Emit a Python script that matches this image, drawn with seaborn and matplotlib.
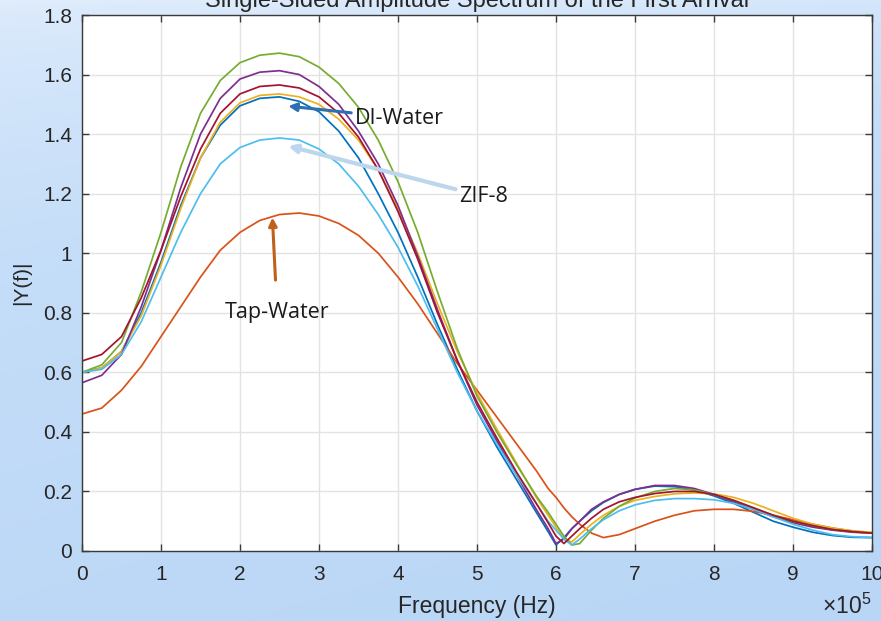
import numpy as np
import pandas as pd
import matplotlib
matplotlib.use("Agg")
import matplotlib.pyplot as plt
from matplotlib.colors import LinearSegmentedColormap
import seaborn as sns

# Frequency axis in units of 1e5 Hz
freq = [0, 0.25, 0.5, 0.75, 1.0, 1.25, 1.5, 1.75, 2.0, 2.25, 2.5, 2.75, 3.0,
        3.25, 3.5, 3.75, 4.0, 4.25, 4.5, 4.75, 5.0, 5.25, 5.5, 5.75,
        5.9, 6.0, 6.1, 6.2, 6.3, 6.45, 6.6, 6.8, 7.0,
        7.25, 7.5, 7.75, 8.0, 8.25, 8.5, 8.75, 9.0, 9.25, 9.5, 9.75, 10.0]

di_water = [0.60, 0.615, 0.67, 0.80, 0.97, 1.16, 1.32, 1.43, 1.495, 1.52, 1.525, 1.51, 1.475,
            1.41, 1.32, 1.20, 1.07, 0.92, 0.76, 0.61, 0.47, 0.35, 0.24, 0.13,
            0.065, 0.02, 0.045, 0.075, 0.10, 0.135, 0.163, 0.19, 0.207,
            0.218, 0.216, 0.205, 0.185, 0.16, 0.13, 0.10, 0.08, 0.063, 0.052, 0.046, 0.045]

tap_water = [0.46, 0.48, 0.54, 0.62, 0.72, 0.82, 0.92, 1.01, 1.07, 1.11, 1.13, 1.135, 1.125,
             1.10, 1.06, 1.00, 0.92, 0.83, 0.73, 0.63, 0.54, 0.45, 0.36, 0.27,
             0.21, 0.18, 0.145, 0.115, 0.09, 0.06, 0.045, 0.055, 0.075,
             0.10, 0.12, 0.135, 0.14, 0.14, 0.133, 0.12, 0.105, 0.09, 0.077, 0.067, 0.06]

sample_c = [0.60, 0.615, 0.67, 0.79, 0.96, 1.15, 1.32, 1.44, 1.505, 1.53, 1.535, 1.525, 1.50,
            1.45, 1.38, 1.28, 1.15, 1.00, 0.83, 0.67, 0.53, 0.41, 0.295, 0.18,
            0.12, 0.08, 0.04, 0.03, 0.055, 0.09, 0.12, 0.15, 0.17,
            0.183, 0.192, 0.195, 0.192, 0.18, 0.16, 0.135, 0.11, 0.09, 0.077, 0.068, 0.063]

sample_d = [0.565, 0.59, 0.66, 0.82, 1.01, 1.22, 1.40, 1.52, 1.585, 1.608, 1.613, 1.60, 1.56,
            1.50, 1.41, 1.30, 1.16, 0.99, 0.81, 0.64, 0.49, 0.37, 0.255, 0.14,
            0.075, 0.025, 0.04, 0.075, 0.10, 0.14, 0.165, 0.19, 0.207,
            0.22, 0.22, 0.21, 0.19, 0.165, 0.14, 0.115, 0.095, 0.08, 0.07, 0.063, 0.06]

sample_e = [0.600, 0.625, 0.70, 0.87, 1.07, 1.29, 1.47, 1.58, 1.64, 1.665, 1.672, 1.66, 1.625,
            1.57, 1.49, 1.38, 1.24, 1.07, 0.87, 0.68, 0.52, 0.40, 0.29, 0.185,
            0.13, 0.09, 0.05, 0.02, 0.025, 0.07, 0.11, 0.15, 0.178,
            0.20, 0.21, 0.205, 0.19, 0.17, 0.145, 0.12, 0.10, 0.085, 0.072, 0.065, 0.06]

zif8 = [0.60, 0.61, 0.66, 0.77, 0.92, 1.07, 1.20, 1.30, 1.355, 1.38, 1.387, 1.38, 1.35,
        1.30, 1.225, 1.13, 1.02, 0.89, 0.745, 0.60, 0.47, 0.36, 0.255, 0.16,
        0.10, 0.07, 0.04, 0.02, 0.04, 0.075, 0.105, 0.135, 0.155,
        0.17, 0.176, 0.176, 0.172, 0.16, 0.14, 0.115, 0.09, 0.07, 0.055, 0.048, 0.045]

sample_g = [0.638, 0.66, 0.72, 0.85, 1.01, 1.19, 1.35, 1.47, 1.535, 1.56, 1.565, 1.555, 1.525,
            1.47, 1.39, 1.28, 1.14, 0.98, 0.80, 0.64, 0.50, 0.38, 0.265, 0.16,
            0.095, 0.05, 0.025, 0.05, 0.075, 0.11, 0.14, 0.165, 0.18,
            0.193, 0.20, 0.20, 0.19, 0.17, 0.145, 0.12, 0.10, 0.085, 0.072, 0.065, 0.06]

series_names = ["DI-Water", "Tap-Water", "Sample C", "Sample D", "Sample E", "ZIF-8", "Sample G"]
series_values = [di_water, tap_water, sample_c, sample_d, sample_e, zif8, sample_g]
series_colors = ["#0072BD", "#D95319", "#EDB120", "#7E2F8E", "#77AC30", "#4DBEEE", "#A2142F"]

x_ticks = list(range(0, 11))
y_ticks = [0, 0.2, 0.4, 0.6, 0.8, 1.0, 1.2, 1.4, 1.6, 1.8]

df = pd.concat(
    [pd.DataFrame({"freq": freq, "amp": vals, "series": name})
     for name, vals in zip(series_names, series_values)],
    ignore_index=True,
)

plt.rcParams["mathtext.fontset"] = "custom"
plt.rcParams["mathtext.rm"] = "Liberation Sans"

W, H = 881, 621
fig = plt.figure(figsize=(W / 100, H / 100), dpi=100)

# soft blue backdrop
bg = fig.add_axes([0, 0, 1, 1], zorder=0)
yy, xx = np.mgrid[0:1:200j, 0:1:200j]
t = np.clip(0.8 * yy ** 0.6 + 0.2 * xx, 0, 1)
cmap = LinearSegmentedColormap.from_list("bg", ["#e0edfc", "#c4ddf8", "#b9d6f6"])
bg.imshow(t, cmap=cmap, aspect="auto", extent=[0, 1, 0, 1], origin="upper", vmin=0, vmax=1)
bg.set_axis_off()

ax = fig.add_axes([82 / W, 1 - 551 / H, 790 / W, 536 / H], zorder=1)
ax.set_facecolor("white")

sns.lineplot(data=df, x="freq", y="amp", hue="series", hue_order=series_names,
             palette=dict(zip(series_names, series_colors)), estimator=None,
             errorbar=None, sort=False, legend=False, linewidth=1.25, ax=ax)
for ln in ax.get_lines():
    ln.set_solid_joinstyle("round")

ax.set_xlim(0, 10)
ax.set_ylim(0, 1.8)
ax.set_xticks(x_ticks)
ax.set_yticks(y_ticks)
ax.set_xticklabels([f"{v:g}" for v in x_ticks])
ax.set_yticklabels([f"{v:g}" for v in y_ticks])
ax.grid(True, color="#e3e3e3", linewidth=1.0)
ax.set_axisbelow(True)
for sp in ax.spines.values():
    sp.set_color("#3a3a3a")
    sp.set_linewidth(1.0)
ax.tick_params(direction="in", length=5, width=1, colors="#3a3a3a",
               labelcolor="#262626", labelsize=15, top=True, right=True)
ax.tick_params(axis="x", pad=10)
ax.tick_params(axis="y", pad=7)
for lab in ax.get_xticklabels() + ax.get_yticklabels():
    lab.set_family("Liberation Sans")

ax.set_xlabel("Frequency (Hz)", fontsize=16.5, family="Liberation Sans", color="#262626")
ax.xaxis.set_label_coords(0.5, (551 - 606) / 536)
ax.xaxis.label.set_va("center")
ax.set_ylabel("|Y(f)|", fontsize=15, family="Liberation Sans", color="#262626")
ax.yaxis.set_label_coords((22 - 82) / 790, 0.5)
ax.yaxis.label.set_va("center")

fig.text(477 / W, 1 - 6.5 / H, "Single-Sided Amplitude Spectrum of the First Arrival",
         ha="center", va="baseline", fontsize=17, family="Liberation Sans", color="#262626")

fig.text(871 / W, 1 - 614 / H, r"$\mathrm{\times 10^{5}}$", ha="right", va="baseline",
         fontsize=16.5, color="#262626")

label_font = dict(fontsize=15.5, family="Open Sans", color="#1a1a1a")
ax.annotate("DI-Water", xy=(2.61, 1.494), xytext=(3.46, 1.454), ha="left", va="center",
            arrowprops=dict(arrowstyle="-|>", color="#2e6fb0", lw=2.2, mutation_scale=12,
                            shrinkA=1, shrinkB=0), **label_font)
ax.annotate("ZIF-8", xy=(2.61, 1.36), xytext=(4.78, 1.19), ha="left", va="center",
            arrowprops=dict(arrowstyle="-|>", color="#bcd6ee", lw=3.0, mutation_scale=12,
                            shrinkA=1, shrinkB=0), **label_font)
ax.annotate("Tap-Water", xy=(2.41, 1.12), xytext=(2.47, 0.80), ha="center", va="center",
            arrowprops=dict(arrowstyle="-|>", color="#c0601c", lw=2.2, mutation_scale=12,
                            shrinkA=14, shrinkB=0), **label_font)

fig.savefig("out.png", dpi=100)
